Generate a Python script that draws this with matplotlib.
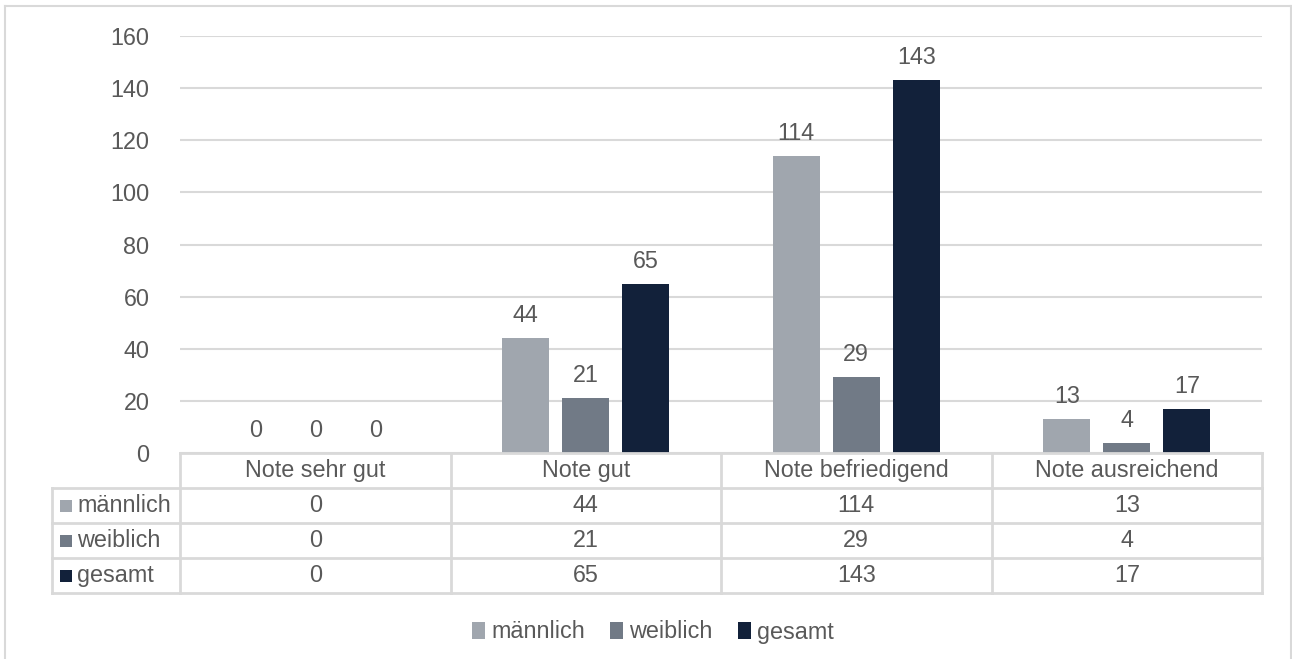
import matplotlib
matplotlib.use("Agg")
import matplotlib.pyplot as plt
from matplotlib.patches import Patch
from matplotlib.lines import Line2D
import numpy as np

plt.rcParams['font.family'] = ['Liberation Sans', 'DejaVu Sans']

categories = ["Note sehr gut", "Note gut", "Note befriedigend", "Note ausreichend"]
series_names = ["männlich", "weiblich", "gesamt"]
maennlich = [0, 44, 114, 13]
weiblich = [0, 21, 29, 4]
gesamt = [0, 65, 143, 17]
y_ticks = [0, 20, 40, 60, 80, 100, 120, 140, 160]

colors = ["#A0A6AE", "#717A86", "#12213A"]
text_color = "#595959"
grid_color = "#D9D9D9"
fs = 16.8

W, H = 1292, 659
fig = plt.figure(figsize=(W / 100, H / 100), dpi=100)

# outer border
fig.add_artist(Line2D([5 / W, 5 / W], [0, 1 - 6 / H], color=grid_color, lw=1.5, transform=fig.transFigure))
fig.add_artist(Line2D([5 / W, 1291 / W], [1 - 6 / H, 1 - 6 / H], color=grid_color, lw=1.5, transform=fig.transFigure))
fig.add_artist(Line2D([1291 / W, 1291 / W], [0, 1 - 6 / H], color=grid_color, lw=1.5, transform=fig.transFigure))

left_px, right_px = 180, 1262
top_px, zero_px = 36, 453
ax = fig.add_axes([left_px / W, 1 - zero_px / H, (right_px - left_px) / W, (zero_px - top_px) / H])
ax.set_xlim(0, 4)
ax.set_ylim(0, 160)
for s in ax.spines.values():
    s.set_visible(False)
ax.set_yticks(y_ticks)
ax.set_yticklabels([str(t) for t in y_ticks], fontsize=fs, color=text_color)
ax.tick_params(axis='y', length=0, pad=22)
ax.set_xticks([])
ax.yaxis.grid(True, color=grid_color, lw=1.5)
ax.set_axisbelow(True)

x = np.arange(len(categories)) + 0.5
step = 60 / 270.5
bw = 47 / 270.5
all_series = [maennlich, weiblich, gesamt]
for i, (vals, c) in enumerate(zip(all_series, colors)):
    xs = x + (i - 1) * step
    ax.bar(xs, vals, width=bw, color=c, zorder=2)
    for xi, v in zip(xs, vals):
        ax.annotate(str(v), (xi, v), xytext=(0, 11.5), textcoords='offset points',
                    ha='center', va='baseline', fontsize=fs, color=text_color, zorder=3)

# data table
tleft_px, tbottom_px = 52, 593
tax = fig.add_axes([tleft_px / W, 1 - tbottom_px / H, (right_px - tleft_px) / W, (tbottom_px - zero_px) / H])
xl = -(left_px - tleft_px) / 270.5
tax.set_xlim(xl, 4)
tax.set_ylim(4, 0)
tax.axis('off')
lw = 2
tax.plot([0, 4], [0, 0], color=grid_color, lw=lw, clip_on=False)
for r in range(1, 5):
    tax.plot([xl, 4], [r, r], color=grid_color, lw=lw, clip_on=False)
tax.plot([xl, xl], [1, 4], color=grid_color, lw=lw, clip_on=False)
for c in range(0, 5):
    tax.plot([c, c], [0, 4], color=grid_color, lw=lw, clip_on=False)
for j, cat in enumerate(categories):
    tax.text(j + 0.5, 0.5, cat, ha='center', va='center', fontsize=fs, color=text_color)
for i, (name, vals, c) in enumerate(zip(series_names, all_series, colors)):
    yrow = i + 1.5
    tax.plot([(66 - left_px) / 270.5], [yrow], marker='s', ms=9.0, color=c, mew=0, clip_on=False)
    tax.text((77 - left_px) / 270.5, yrow, name, ha='left', va='center', fontsize=fs, color=text_color)
    for j, v in enumerate(vals):
        tax.text(j + 0.5, yrow, str(v), ha='center', va='center', fontsize=fs, color=text_color)

handles = [Patch(facecolor=c, edgecolor='none') for c in colors]
fig.legend(handles, series_names, loc='center', bbox_to_anchor=(653 / W, 1 - 632 / H), ncol=3,
           frameon=False, fontsize=fs, labelcolor=text_color, handlelength=0.55, handleheight=0.7,
           handletextpad=0.25, columnspacing=1.1)

fig.savefig("out.png", dpi=100)
